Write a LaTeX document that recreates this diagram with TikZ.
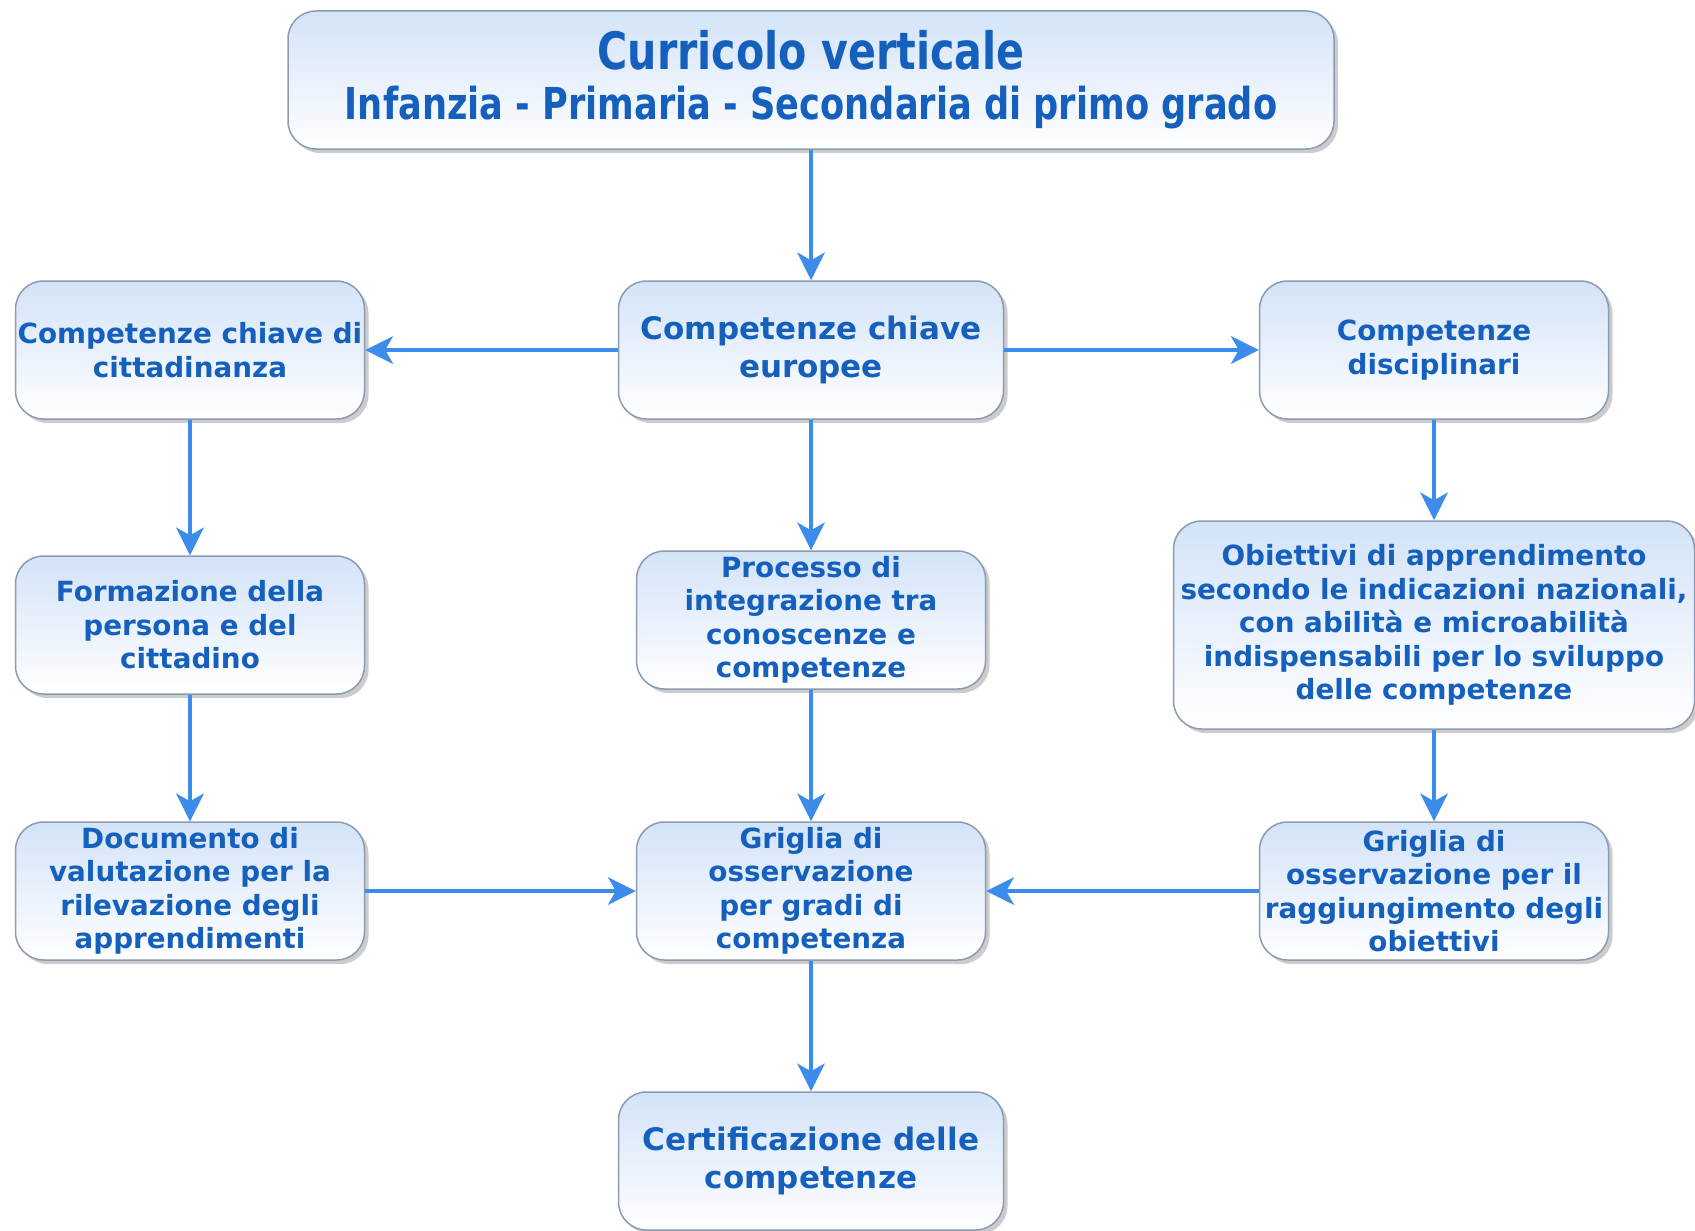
\documentclass[tikz,border=0pt]{standalone}
\usepackage{fontspec}
\setmainfont{DejaVu Sans}
\newfontfamily\titlefont[FakeStretch=0.8]{DejaVu Sans}
\usetikzlibrary{arrows.meta,shadows}
\definecolor{boxtext}{HTML}{1560BD}
\definecolor{flowblue}{HTML}{3C8DEB}
\definecolor{boxtop}{HTML}{D3E3F8}
\definecolor{boxedge}{HTML}{8C9BB2}

\begin{document}
\begin{tikzpicture}
		[x=1pt,y=-1pt,
		box/.style ={rectangle, draw=boxedge, line width=1.5pt, rounded corners=28pt, top color=boxtop, bottom color=white, text=boxtext, font=\bfseries\fontsize{27.8}{33.5}\selectfont, align=center, minimum width=349pt, minimum height=138pt, inner sep=0pt, drop shadow={shadow xshift=4pt, shadow yshift=-4pt, fill=black!40}},
		bigbox/.style ={box, font=\bfseries\fontsize{31}{37.5}\selectfont, minimum width=385pt},
		link/.style ={draw, color=flowblue, line width=4pt, -{Stealth[length=28pt,width=28pt,inset=8pt,line width=0pt]}}]
		\useasboundingbox (0,0) rectangle (1695,1231);

		\node[box, minimum width=1046pt, font=\titlefont\bfseries\fontsize{44}{50}\selectfont] (title) at (811,80)
		{{\fontsize{51.5}{50}\selectfont Curricolo verticale}\\Infanzia - Primaria - Secondaria di primo grado};

		\node[box] (citt) at (190,350) {Competenze chiave di\\cittadinanza};
		\node[bigbox] (europ) at (811,350) {Competenze chiave\\europee};
		\node[box] (disc) at (1434,350) {Competenze\\disciplinari};

		\node[box] (form) at (190,625) {Formazione della\\persona e del\\cittadino};
		\node[box] (proc) at (811,620) {Processo di\\integrazione tra\\conoscenze e\\competenze};
		\node[box, minimum width=521pt, minimum height=208pt] (obiet) at (1434,625)
		{Obiettivi di apprendimento\\secondo le indicazioni nazionali,\\con abilità e microabilità\\indispensabili per lo sviluppo\\delle competenze};

		\node[box] (doc) at (190,891) {Documento di\\valutazione per la\\rilevazione degli\\apprendimenti};
		\node[box] (grid) at (811,891) {Griglia di\\osservazione\\per gradi di\\competenza};
		\node[box] (gridr) at (1434,891) {Griglia di\\osservazione per il\\raggiungimento degli\\obiettivi};

		\node[bigbox] (cert) at (811,1161) {Certificazione delle\\competenze};

		\path[link]
		(title) edge (europ)
		(europ) edge (citt)
		(europ) edge (disc)
		(europ) edge (proc)
		(citt) edge (form)
		(form) edge (doc)
		(disc) edge (obiet)
		(obiet) edge (gridr)
		(proc) edge (grid)
		(doc) edge (grid)
		(gridr) edge (grid)
		(grid) edge (cert);

	\end{tikzpicture}
\end{document}
